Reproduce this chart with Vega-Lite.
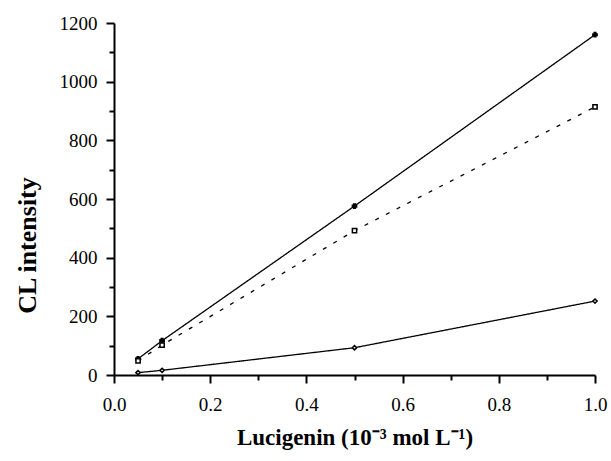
{
  "$schema": "https://vega.github.io/schema/vega-lite/v6.json",
  "width": 481,
  "height": 352,
  "autosize": {"type": "none"},
  "padding": {"left": 114, "top": 23, "right": 16, "bottom": 86},
  "background": "white",
  "config": {
    "view": {"stroke": null},
    "font": "Liberation Serif",
    "axis": {
      "grid": false,
      "domainColor": "black",
      "domainWidth": 2,
      "tickColor": "black",
      "tickWidth": 2,
      "labelFont": "Liberation Serif",
      "labelFontSize": 19,
      "labelColor": "black",
      "titleFont": "Liberation Serif",
      "titleFontSize": 23,
      "titleFontWeight": "bold",
      "titleColor": "black"
    }
  },
  "data": {
    "values": [
      {"series": "A", "x": 0.05, "y": 55},
      {"series": "A", "x": 0.1, "y": 117},
      {"series": "A", "x": 0.5, "y": 576},
      {"series": "A", "x": 1.0, "y": 1160},
      {"series": "B", "x": 0.05, "y": 48},
      {"series": "B", "x": 0.1, "y": 102},
      {"series": "B", "x": 0.5, "y": 492},
      {"series": "B", "x": 1.0, "y": 914},
      {"series": "C", "x": 0.05, "y": 8},
      {"series": "C", "x": 0.1, "y": 16},
      {"series": "C", "x": 0.5, "y": 93},
      {"series": "C", "x": 1.0, "y": 252}
    ]
  },
  "encoding": {
    "x": {
      "field": "x", "type": "quantitative",
      "scale": {"domain": [0, 1], "nice": false, "zero": false},
      "axis": {
        "orient": "bottom",
        "values": [0, 0.1, 0.2, 0.3, 0.4, 0.5, 0.6, 0.7, 0.8, 0.9, 1.0],
        "labelExpr": "round(datum.value*10) % 2 == 0 ? format(datum.value, '.1f') : ''",
        "tickSize": {"condition": {"test": "round(datum.value*10) % 2 == 0", "value": 8}, "value": 5},
        "labelPadding": 12,
        "titlePadding": 12,
        "title": "Lucigenin (10⁻³ mol L⁻¹)",
        "labelFlush": false,
        "labelOverlap": false
      }
    },
    "y": {
      "field": "y", "type": "quantitative",
      "scale": {"domain": [0, 1200], "nice": false},
      "axis": {
        "orient": "left",
        "values": [0, 100, 200, 300, 400, 500, 600, 700, 800, 900, 1000, 1100, 1200],
        "labelExpr": "datum.value % 200 == 0 ? format(datum.value, 'd') : ''",
        "tickSize": {"condition": {"test": "datum.value % 200 == 0", "value": 8}, "value": 5},
        "labelPadding": 9,
        "titlePadding": 19,
        "titleFontSize": 26,
        "titleY": 222,
        "title": "CL intensity",
        "labelFlush": false,
        "labelOverlap": false
      }
    }
  },
  "layer": [
    {
      "mark": {"type": "line", "color": "black", "strokeWidth": 1.3},
      "encoding": {
        "detail": {"field": "series"},
        "strokeDash": {
          "field": "series",
          "scale": {"domain": ["A", "B", "C"], "range": [[1, 0], [4, 8], [1, 0]]},
          "legend": null
        }
      }
    },
    {
      "mark": {"type": "point", "size": 18, "strokeWidth": 1.5, "opacity": 1},
      "encoding": {
        "shape": {
          "field": "series",
          "scale": {"domain": ["A", "B", "C"], "range": ["cross", "square", "diamond"]},
          "legend": null
        },
        "fill": {
          "field": "series",
          "scale": {"domain": ["A", "B", "C"], "range": ["black", "white", "white"]},
          "legend": null
        },
        "stroke": {
          "field": "series",
          "scale": {"domain": ["A", "B", "C"], "range": ["black", "black", "black"]},
          "legend": null
        }
      }
    }
  ]
}
